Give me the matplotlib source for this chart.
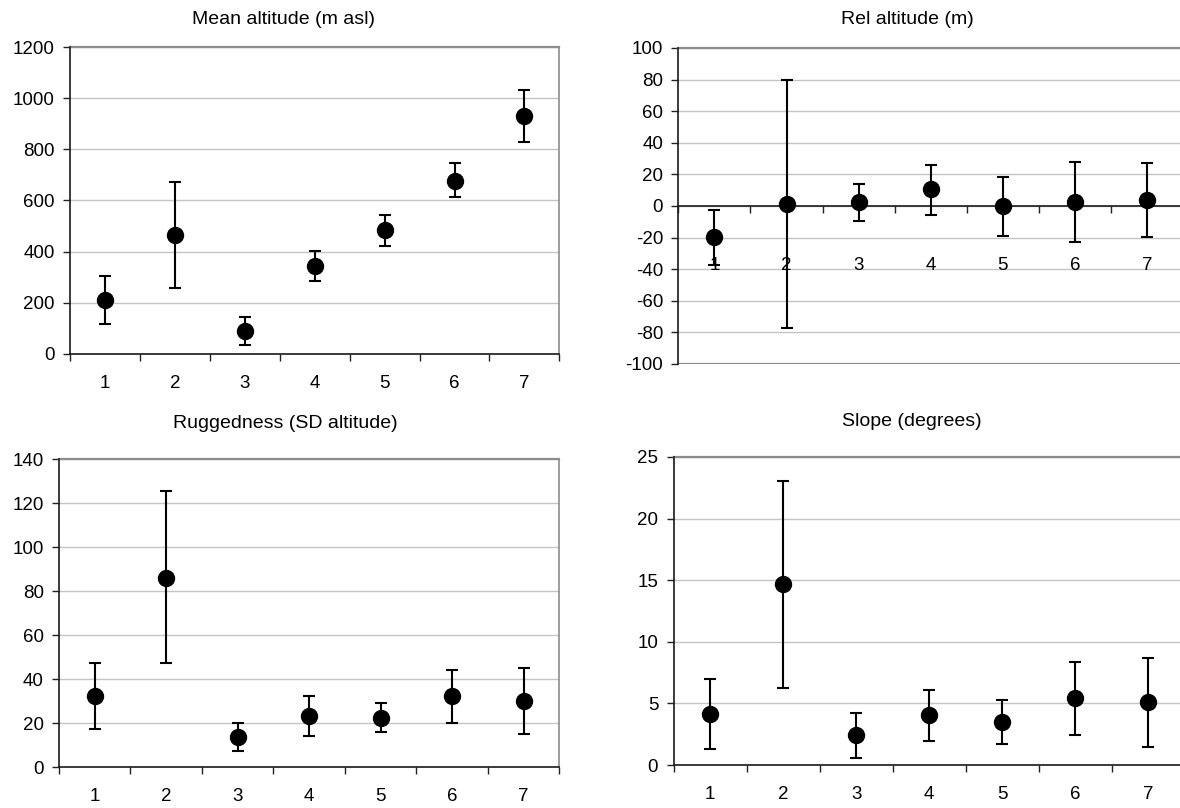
import numpy as np
import matplotlib
matplotlib.use("Agg")
import matplotlib.pyplot as plt
from matplotlib.ticker import FixedLocator

plt.rcParams['font.family'] = ['Liberation Sans', 'DejaVu Sans']

# site classes 1..7
classes = ['1', '2', '3', '4', '5', '6', '7']

# mean with lower / upper ends of the error bars
mean_alt = [211, 465, 90, 344, 484, 678, 931]
mean_alt_lo = [116, 258, 35, 285, 423, 613, 827]
mean_alt_hi = [306, 673, 143, 402, 543, 745, 1033]

rel_alt = [-19.7, 1.4, 2.6, 10.6, -0.3, 2.6, 3.9]
rel_alt_lo = [-37.4, -77.0, -9.2, -5.6, -18.9, -23.1, -19.5]
rel_alt_hi = [-2.6, 79.6, 14.0, 26.2, 18.2, 27.9, 27.1]

rugged = [32.2, 86.1, 13.7, 23.2, 22.5, 32.2, 29.9]
rugged_lo = [17.2, 47.1, 7.4, 14.3, 15.9, 19.9, 15.0]
rugged_hi = [47.2, 125.3, 19.9, 32.2, 29.0, 44.3, 44.9]

slope = [4.14, 14.68, 2.44, 4.04, 3.49, 5.47, 5.09]
slope_lo = [1.33, 6.28, 0.60, 1.95, 1.73, 2.46, 1.46]
slope_hi = [6.99, 23.08, 4.23, 6.09, 5.25, 8.40, 8.69]

W, H = 1180, 808
fig = plt.figure(figsize=(W / 100, H / 100), dpi=100)
FS = 13.5
TITLE_FS = 14


def px_box(left, top, right, bottom):
    return [left / W, 1 - bottom / H, (right - left) / W, (bottom - top) / H]


def panel(box, title, title_xy, y, lo, hi, ylim, ystep, xlab_pad, zero_axis=False, right_border=True):
    ax = fig.add_axes(px_box(*box))
    x = np.arange(1, len(classes) + 1)
    y = np.array(y)
    err = [y - np.array(lo), np.array(hi) - y]
    ax.errorbar(x, y, yerr=err, fmt='o', color='black', ms=11.5, elinewidth=1.5,
                capsize=4.6, capthick=1.5, zorder=5, clip_on=False)
    ax.set_xlim(0.5, len(classes) + 0.5)
    ax.set_ylim(*ylim)
    yt = np.arange(ylim[0], ylim[1] + ystep / 2, ystep)
    ax.set_yticks(yt)
    ax.set_yticklabels(['%g' % v for v in yt])
    for v in yt:
        ax.axhline(v, color='#c4c4c4', lw=1.0, zorder=1)
    # category boundaries get the tick marks, labels sit in between
    ax.xaxis.set_major_locator(FixedLocator(np.arange(0.5, len(classes) + 1, 1.0)))
    ax.xaxis.set_minor_locator(FixedLocator(x))
    ax.set_xticklabels([], minor=False)
    ax.set_xticklabels(classes, minor=True)
    ax.tick_params(axis='x', which='major', direction='out', length=5, width=1.0, color='#222222')
    ax.tick_params(axis='x', which='minor', length=0, pad=xlab_pad, labelsize=FS)
    ax.tick_params(axis='y', direction='out', length=5, width=1.0, pad=6, labelsize=FS, color='#222222')
    for s in ('left', 'bottom'):
        ax.spines[s].set_color('#1a1a1a')
        ax.spines[s].set_linewidth(1.2)
        ax.spines[s].set_zorder(4)
    ax.spines['top'].set_color('#8c8c8c')
    ax.spines['top'].set_linewidth(1.6)
    ax.spines['right'].set_color('#8c8c8c')
    ax.spines['right'].set_linewidth(1.2)
    ax.spines['right'].set_visible(right_border)
    if zero_axis:
        ax.spines['bottom'].set_position(('data', 0))
        ax.axhline(ylim[0], color='#8c8c8c', lw=1.6, zorder=2)
    fig.text(title_xy[0] / W, 1 - title_xy[1] / H, title, ha='center', va='center', fontsize=TITLE_FS)
    return ax


panel((70, 47, 559.4, 354), 'Mean altitude (m asl)', (283, 20),
      mean_alt, mean_alt_lo, mean_alt_hi, (0, 1200), 200, 15)
panel((678.4, 48, 1183, 364), 'Rel altitude (m)', (907, 20),
      rel_alt, rel_alt_lo, rel_alt_hi, (-100, 100), 20, 36.5, zero_axis=True, right_border=False)
panel((59, 459, 559.4, 767), 'Ruggedness (SD altitude)', (285, 423),
      rugged, rugged_lo, rugged_hi, (0, 140), 20, 15)
panel((673.5, 457, 1185, 765), 'Slope (degrees)', (912, 422),
      slope, slope_lo, slope_hi, (0, 25), 5, 15, right_border=False)

fig.savefig('out.png', dpi=100)
